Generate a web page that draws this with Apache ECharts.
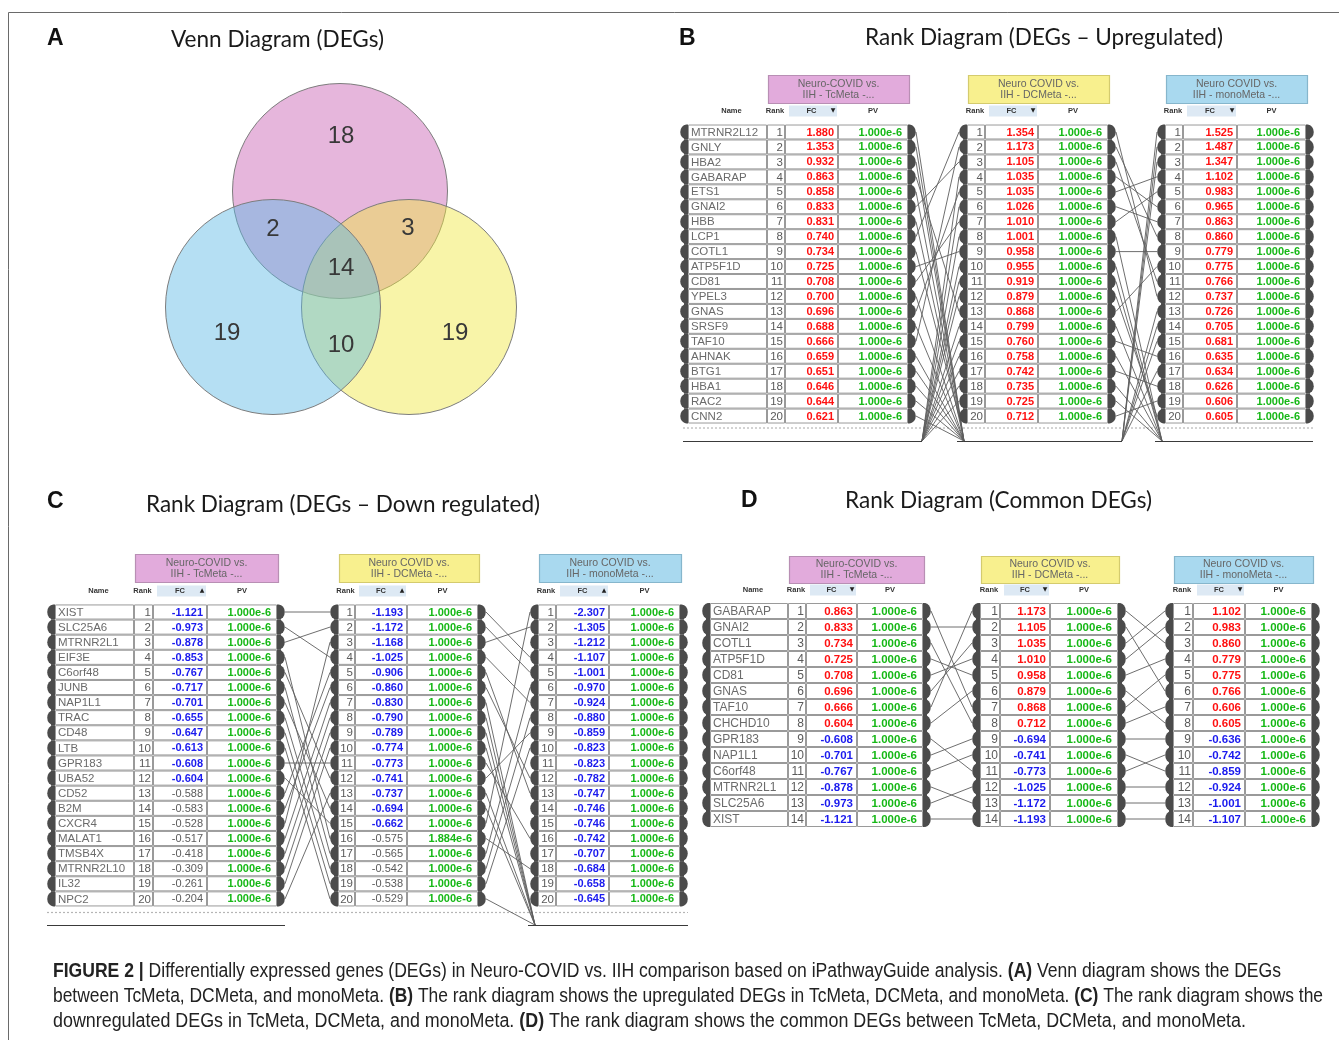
<!DOCTYPE html>
<html><head><meta charset="utf-8">
<script src="https://cdn.jsdelivr.net/npm/echarts@6/dist/echarts.min.js"></script>
<style>html,body{margin:0;padding:0;background:#fff}#c{width:1339px;height:1040px}</style>
</head><body><div id="c"></div>
<script>
// ================= DATA =================
// Venn region counts: TcMeta only, Tc∩mono, Tc∩DC, all three, monoMeta only, DC∩mono, DCMeta only
const vennCounts = [18, 2, 3, 14, 19, 10, 19];

const tableTitles = ['Neuro-COVID vs.\nIIH - TcMeta -...', 'Neuro COVID vs.\nIIH - DCMeta -...', 'Neuro COVID vs.\nIIH - monoMeta -...'];

// (B) upregulated
const upNames = ['MTRNR2L12','GNLY','HBA2','GABARAP','ETS1','GNAI2','HBB','LCP1','COTL1','ATP5F1D','CD81','YPEL3','GNAS','SRSF9','TAF10','AHNAK','BTG1','HBA1','RAC2','CNN2'];
const upTcFC = [1.880,1.353,0.932,0.863,0.858,0.833,0.831,0.740,0.734,0.725,0.708,0.700,0.696,0.688,0.666,0.659,0.651,0.646,0.644,0.621];
const upTcPV = [1e-6,1e-6,1e-6,1e-6,1e-6,1e-6,1e-6,1e-6,1e-6,1e-6,1e-6,1e-6,1e-6,1e-6,1e-6,1e-6,1e-6,1e-6,1e-6,1e-6];
const upDcFC = [1.354,1.173,1.105,1.035,1.035,1.026,1.010,1.001,0.958,0.955,0.919,0.879,0.868,0.799,0.760,0.758,0.742,0.735,0.725,0.712];
const upDcPV = [1e-6,1e-6,1e-6,1e-6,1e-6,1e-6,1e-6,1e-6,1e-6,1e-6,1e-6,1e-6,1e-6,1e-6,1e-6,1e-6,1e-6,1e-6,1e-6,1e-6];
const upMonoFC = [1.525,1.487,1.347,1.102,0.983,0.965,0.863,0.860,0.779,0.775,0.766,0.737,0.726,0.705,0.681,0.635,0.634,0.626,0.606,0.605];
const upMonoPV = [1e-6,1e-6,1e-6,1e-6,1e-6,1e-6,1e-6,1e-6,1e-6,1e-6,1e-6,1e-6,1e-6,1e-6,1e-6,1e-6,1e-6,1e-6,1e-6,1e-6];
// rank links [rank in left table, rank in right table]; null = not in the other top list
const upTcDc = [[1,null],[2,null],[3,null],[4,13],[5,null],[6,3],[7,null],[8,1],[9,20],[10,9],[11,7],[12,null],[13,5],[14,null],[15,2],[16,null],[17,null],[18,null],[19,null],[20,null],
  [null,4],[null,6],[null,8],[null,10],[null,11],[null,12],[null,14],[null,15],[null,16],[null,17],[null,18],[null,19]];
const upDcMono = [[1,12],[2,8],[3,11],[4,6],[5,4],[6,7],[7,5],[8,null],[9,9],[10,null],[11,null],[12,20],[13,10],[14,null],[15,16],[16,null],[17,18],[18,null],[19,null],[20,19],
  [null,1],[null,2],[null,3],[null,13],[null,14],[null,15],[null,17]];

// (C) downregulated
const downNames = ['XIST','SLC25A6','MTRNR2L1','EIF3E','C6orf48','JUNB','NAP1L1','TRAC','CD48','LTB','GPR183','UBA52','CD52','B2M','CXCR4','MALAT1','TMSB4X','MTRNR2L10','IL32','NPC2'];
const downTcFC = [-1.121,-0.973,-0.878,-0.853,-0.767,-0.717,-0.701,-0.655,-0.647,-0.613,-0.608,-0.604,-0.588,-0.583,-0.528,-0.517,-0.418,-0.309,-0.261,-0.204];
const downTcPV = [1e-6,1e-6,1e-6,1e-6,1e-6,1e-6,1e-6,1e-6,1e-6,1e-6,1e-6,1e-6,1e-6,1e-6,1e-6,1e-6,1e-6,1e-6,1e-6,1e-6];
const downDcFC = [-1.193,-1.172,-1.168,-1.025,-0.906,-0.860,-0.830,-0.790,-0.789,-0.774,-0.773,-0.741,-0.737,-0.694,-0.662,-0.575,-0.565,-0.542,-0.538,-0.529];
const downDcPV = [1e-6,1e-6,1e-6,1e-6,1e-6,1e-6,1e-6,1e-6,1e-6,1e-6,1e-6,1e-6,1e-6,1e-6,1e-6,1.884e-6,1e-6,1e-6,1e-6,1e-6];
const downMonoFC = [-2.307,-1.305,-1.212,-1.107,-1.001,-0.970,-0.924,-0.880,-0.859,-0.823,-0.823,-0.782,-0.747,-0.746,-0.746,-0.742,-0.707,-0.684,-0.658,-0.645];
const downMonoPV = [1e-6,1e-6,1e-6,1e-6,1e-6,1e-6,1e-6,1e-6,1e-6,1e-6,1e-6,1e-6,1e-6,1e-6,1e-6,1e-6,1e-6,1e-6,1e-6,1e-6];
const downTcDc = [[1,1],[2,4],[3,2],[4,16],[5,12],[6,17],[7,14],[8,18],[9,19],[10,20],[11,11],[12,15],[13,5],[14,6],[15,3],[16,7],[17,8],[18,9],[19,10],[20,13]];
const downDcMono = [[1,4],[2,5],[3,2],[4,7],[5,13],[6,12],[7,null],[8,null],[9,null],[10,null],[11,16],[12,9],[13,null],[14,null],[15,1],[16,18],[17,6],[18,8],[19,10],[20,null]];

// (D) common
const comNames = ['GABARAP','GNAI2','COTL1','ATP5F1D','CD81','GNAS','TAF10','CHCHD10','GPR183','NAP1L1','C6orf48','MTRNR2L1','SLC25A6','XIST'];
const comTcFC = [0.863,0.833,0.734,0.725,0.708,0.696,0.666,0.604,-0.608,-0.701,-0.767,-0.878,-0.973,-1.121];
const comTcPV = [1e-6,1e-6,1e-6,1e-6,1e-6,1e-6,1e-6,1e-6,1e-6,1e-6,1e-6,1e-6,1e-6,1e-6];
const comDcFC = [1.173,1.105,1.035,1.010,0.958,0.879,0.868,0.712,-0.694,-0.741,-0.773,-1.025,-1.172,-1.193];
const comDcPV = [1e-6,1e-6,1e-6,1e-6,1e-6,1e-6,1e-6,1e-6,1e-6,1e-6,1e-6,1e-6,1e-6,1e-6];
const comMonoFC = [1.102,0.983,0.860,0.779,0.775,0.766,0.606,0.605,-0.636,-0.742,-0.859,-0.924,-1.001,-1.107];
const comMonoPV = [1e-6,1e-6,1e-6,1e-6,1e-6,1e-6,1e-6,1e-6,1e-6,1e-6,1e-6,1e-6,1e-6,1e-6];
const comTcDc = [[1,7],[2,2],[3,8],[4,5],[5,4],[6,3],[7,1],[8,6],[9,11],[10,9],[11,10],[12,13],[13,12],[14,14]];
const comDcMono = [[1,3],[2,6],[3,1],[4,2],[5,4],[6,8],[7,5],[8,7],[9,9],[10,11],[11,10],[12,12],[13,13],[14,14]];

const panelLetters = ['A','B','C','D'];
const panelTitles = ['Venn Diagram (DEGs)','Rank Diagram (DEGs \u2013 Upregulated)','Rank Diagram (DEGs \u2013 Down regulated)','Rank Diagram (Common DEGs)'];
const captionLines = [
  [['FIGURE 2 |',1],[' Differentially expressed genes (DEGs) in Neuro-COVID vs. IIH comparison based on iPathwayGuide analysis. ',0],['(A)',1],[' Venn diagram shows the DEGs',0]],
  [['between TcMeta, DCMeta, and monoMeta. ',0],['(B)',1],[' The rank diagram shows the upregulated DEGs in TcMeta, DCMeta, and monoMeta. ',0],['(C)',1],[' The rank diagram shows the',0]],
  [['downregulated DEGs in TcMeta, DCMeta, and monoMeta. ',0],['(D)',1],[' The rank diagram shows the common DEGs between TcMeta, DCMeta, and monoMeta.',0]]
];

// ================= LAYOUT / STYLE =================
const W = 1339;
const FONT = '"Liberation Sans", Arial, sans-serif';
const DARK = '#4b4b4b';
const HEAD_FILL = ['#e2abdc','#f8f08e','#a9d9ef'];
const HEAD_STROKE = ['#b88fb4','#d4cb6e','#86b6cc'];
const PL = {
  B: {row1:132, rowH:14.95, n:20, headTop:-57, headH:28, colHead:-21, sinkRank:21.67, dotRank:20.8, arrow:'\u25BC',
      dot:[683,1313], solid:[[683,922],[957,1122],[1155,1313]],
      tables:[{x0:688, cols:[['name',79],['rank',18],['fc',53],['pv',70]]},
              {x0:967, cols:[['rank',18],['fc',53],['pv',70]]},
              {x0:1165, cols:[['rank',18],['fc',54],['pv',69]]}]},
  C: {row1:612, rowH:15.1, n:20, headTop:-58, headH:28, colHead:-21, sinkRank:21.73, dotRank:20.9, arrow:'\u25B2',
      dot:[47,688], solid:[[47,285],[528,688]],
      tables:[{x0:55, cols:[['name',79],['rank',19],['fc',54],['pv',70]]},
              {x0:338, cols:[['rank',17],['fc',52],['pv',71]]},
              {x0:538, cols:[['rank',18],['fc',53],['pv',71]]}]},
  D: {row1:611, rowH:16, n:14, headTop:-55, headH:27, colHead:-21, sinkRank:null, dotRank:null, arrow:'\u25BC',
      dot:null, solid:[],
      tables:[{x0:710, cols:[['name',78],['rank',18],['fc',51],['pv',66]]},
              {x0:980, cols:[['rank',20],['fc',50],['pv',68]]},
              {x0:1173, cols:[['rank',20],['fc',52],['pv',67]]}]}
};
const VENN = {left:150, top:80, width:380, height:340,
  circles:[{cx:190, cy:111, r:107.5, fill:'rgb(230,182,220)'},
           {cx:259, cy:227, r:107.5, fill:'rgba(239,231,62,0.45)'},
           {cx:123, cy:227, r:107.5, fill:'rgba(91,184,228,0.45)'}],
  labels:[[191,56],[123,149],[258,148],[191,188],[77,253],[191,265],[305,253]]};

// ================= HELPERS =================
const mctx = document.createElement('canvas').getContext('2d');
function measure(t, font){ mctx.font = font; return mctx.measureText(t).width; }
function tableRight(t){ return t.x0 + t.cols.reduce((s,c)=>s+c[1],0); }

function tableSeries(gi, P, ti, names, fcs, pvs){
  const t = P.tables[ti];
  return {
    type:'custom', xAxisIndex:gi, yAxisIndex:gi, silent:true, z:5,
    data: fcs.map((v,i)=>[t.x0, i+1]),
    renderItem(params, api){
      const i = params.dataIndex;
      const rank = api.value(1);
      const c = api.coord([t.x0, rank]);
      const h = api.size([0,1])[1];
      const y = c[1], top = y - h/2;
      const X = v => api.coord([v, rank])[0];
      const L = X(t.x0), R = X(tableRight(t));
      const kids = [];
      kids.push({type:'rect', shape:{x:L-4, y:top, width:4, height:h, r: i===0?[3,0,0,0]:(i===fcs.length-1?[0,0,0,3]:0)}, style:{fill:DARK}});
      kids.push({type:'circle', x:L-2, y:y, scaleX:6/(h/2), shape:{cx:0,cy:0,r:h/2-0.3}, style:{fill:DARK}});
      kids.push({type:'rect', shape:{x:R, y:top, width:4, height:h, r: i===0?[0,3,0,0]:(i===fcs.length-1?[0,0,3,0]:0)}, style:{fill:DARK}});
      kids.push({type:'circle', x:R+2, y:y, scaleX:6/(h/2), shape:{cx:0,cy:0,r:h/2-0.3}, style:{fill:DARK}});
      let xv = t.x0;
      const fs = P.rowH >= 15.5 ? 12 : 11.5;
      for (const [key, w] of t.cols){
        const x0 = X(xv), x1 = X(xv + w);
        kids.push({type:'rect', shape:{x:x0+0.5, y:top+0.5, width:x1-x0-1, height:h-1}, style:{fill:'#fff', stroke:'#9a9a9a', lineWidth:1}});
        let st;
        if (key === 'name') st = {text:names[i], x:x0+3, align:'left', fill:'#6b6b6b', fontSize:fs, fontWeight:'normal'};
        else if (key === 'rank') st = {text:String(rank), x:x1-2, align:'right', fill:'#5a5a5a', fontSize:fs, fontWeight:'normal'};
        else if (key === 'fc') {
          const v = fcs[i]; const sig = Math.abs(v) >= 0.6;
          st = {text:v.toFixed(3), x:x1-4, align:'right', fill: sig ? (v > 0 ? '#ff1010' : '#1a1aee') : '#5a5a5a', fontSize:fs-0.5, fontWeight: sig ? 'bold' : 'normal'};
        } else st = {text:pvs[i].toExponential(3), x:x1-6, align:'right', fill:'#16b816', fontSize:fs-0.5, fontWeight:'bold'};
        st.y = y + 0.5; st.verticalAlign = 'middle'; st.fontFamily = FONT;
        kids.push({type:'text', style:st});
        xv += w;
      }
      if (i === 0) {
        let xr = t.x0;
        const colX = {};
        for (const [key, w] of t.cols){ colX[key] = [X(xr), X(xr + w)]; xr += w; }
        const bx0 = colX.rank[0] + 1, bx1 = colX.pv[1] + 1;
        kids.push({type:'rect', shape:{x:bx0+0.5, y:y+P.headTop+0.5, width:bx1-bx0, height:P.headH}, style:{fill:HEAD_FILL[ti], stroke:HEAD_STROKE[ti], lineWidth:1.2}});
        kids.push({type:'text', style:{text:tableTitles[ti], x:(bx0+bx1)/2, y:y+P.headTop+P.headH/2+0.5, align:'center', verticalAlign:'middle', fontSize:10.5, lineHeight:11, fill:'#666', fontFamily:FONT}});
        const hy = y + P.colHead;
        const hs = (text, x) => ({type:'text', style:{text, x, y:hy, align:'center', verticalAlign:'middle', fontSize:7.5, fontWeight:'bold', fill:'#333', fontFamily:FONT}});
        if (colX.name) kids.push(hs('Name', (colX.name[0]+colX.name[1])/2 + 4));
        kids.push(hs('Rank', (colX.rank[0]+colX.rank[1])/2 - 1));
        kids.push(hs('PV', (colX.pv[0]+colX.pv[1])/2));
        kids.push({type:'rect', shape:{x:colX.fc[0]+4, y:hy-5.5, width:colX.fc[1]-colX.fc[0]-5, height:11}, style:{fill:'#dde9f4'}});
        kids.push(hs('FC', (colX.fc[0]+colX.fc[1])/2));
        kids.push({type:'text', style:{text:P.arrow, x:colX.fc[1]-5, y:hy-1, align:'center', verticalAlign:'middle', fontSize:6, fill:'#222', fontFamily:'DejaVu Sans'}});
      }
      return {type:'group', children:kids};
    }
  };
}

function linkSeries(gi, P, ta, tb, pairs){
  const A = P.tables[ta], B = P.tables[tb];
  const ax = tableRight(A) + 8, bx = B.x0 - 8;
  return {
    type:'custom', xAxisIndex:gi, yAxisIndex:gi, silent:true, z:2,
    data: pairs.map((p, i) => [i]),
    renderItem(params, api){
      const [a, b] = pairs[params.dataIndex];
      const p1 = a != null ? api.coord([ax, a]) : api.coord([ax + 6, P.sinkRank]);
      const p2 = b != null ? api.coord([bx, b]) : api.coord([bx + 5, P.sinkRank]);
      return {type:'line', shape:{x1:p1[0], y1:p1[1], x2:p2[0], y2:p2[1]}, style:{stroke:'#5e5e5e', lineWidth:0.9}};
    }
  };
}

function decorSeries(gi, P){
  return {
    type:'custom', xAxisIndex:gi, yAxisIndex:gi, silent:true, z:1,
    data: [[0]],
    renderItem(params, api){
      const kids = [];
      if (P.dot) {
        const a = api.coord([P.dot[0], P.dotRank]), b = api.coord([P.dot[1], P.dotRank]);
        kids.push({type:'line', shape:{x1:a[0], y1:a[1], x2:b[0], y2:b[1]}, style:{stroke:'#b5b5b5', lineWidth:1.2, lineDash:[2,2]}});
      }
      for (const s of P.solid){
        const a = api.coord([s[0], P.sinkRank]), b = api.coord([s[1], P.sinkRank]);
        kids.push({type:'line', shape:{x1:a[0], y1:a[1]+0.5, x2:b[0], y2:b[1]+0.5}, style:{stroke:'#3a3a3a', lineWidth:1.2}});
      }
      return {type:'group', children:kids};
    }
  };
}

// ================= BUILD =================
const panelKeys = ['B','C','D'];
const grids = [], xAxes = [], yAxes = [];
panelKeys.forEach((k, gi) => {
  const P = PL[k];
  grids.push({left:0, top:P.row1 - P.rowH/2, width:W, height:P.n * P.rowH, containLabel:false});
  xAxes.push({type:'value', gridIndex:gi, min:0, max:W, show:false});
  yAxes.push({type:'value', gridIndex:gi, min:0.5, max:P.n + 0.5, inverse:true, show:false});
});
grids.push({left:VENN.left, top:VENN.top, width:VENN.width, height:VENN.height});
xAxes.push({type:'value', gridIndex:3, min:0, max:VENN.width, show:false});
yAxes.push({type:'value', gridIndex:3, min:0, max:VENN.height, inverse:true, show:false});

const series = [];
const sets = {
  B: [[upNames, upTcFC, upTcPV],[null, upDcFC, upDcPV],[null, upMonoFC, upMonoPV], upTcDc, upDcMono],
  C: [[downNames, downTcFC, downTcPV],[null, downDcFC, downDcPV],[null, downMonoFC, downMonoPV], downTcDc, downDcMono],
  D: [[comNames, comTcFC, comTcPV],[null, comDcFC, comDcPV],[null, comMonoFC, comMonoPV], comTcDc, comDcMono]
};
panelKeys.forEach((k, gi) => {
  const P = PL[k], S = sets[k];
  series.push(decorSeries(gi, P));
  series.push(linkSeries(gi, P, 0, 1, S[3]));
  series.push(linkSeries(gi, P, 1, 2, S[4]));
  for (let ti = 0; ti < 3; ti++) series.push(tableSeries(gi, P, ti, S[ti][0], S[ti][1], S[ti][2]));
});
series.push({type:'custom', xAxisIndex:3, yAxisIndex:3, silent:true, z:3,
  data: VENN.circles.map(c => [c.cx, c.cy]),
  renderItem(params, api){
    const c = VENN.circles[params.dataIndex];
    const p = api.coord([api.value(0), api.value(1)]);
    const r = api.size([c.r, 0])[0];
    return {type:'circle', shape:{cx:p[0], cy:p[1], r}, style:{fill:c.fill, stroke:'#7d7d7d', lineWidth:1}};
  }});
series.push({type:'custom', xAxisIndex:3, yAxisIndex:3, silent:true, z:4,
  data: vennCounts.map((v, i) => [VENN.labels[i][0], VENN.labels[i][1], v]),
  renderItem(params, api){
    const p = api.coord([api.value(0), api.value(1)]);
    return {type:'text', style:{text:String(api.value(2)), x:p[0], y:p[1], align:'center', verticalAlign:'middle', fontSize:24, fill:'#383838', fontFamily:FONT}};
  }});

// ---- graphic texts ----
const graphics = [];
graphics.push({type:'rect', shape:{x:8.5, y:12.5, width:1345, height:1045}, style:{fill:'none', stroke:'#6a6a6a', lineWidth:1}, silent:true});
const letterPos = [[47,39],[679,39],[47,502],[741,501]];
panelLetters.forEach((l, i) => graphics.push({type:'text', x:letterPos[i][0], y:letterPos[i][1], style:{text:l, fontSize:23, fontWeight:'bold', fontFamily:FONT, fill:'#111', verticalAlign:'middle'}}));
const titlePos = [[171,40,213],[865,38,358],[146,505,394],[845,501,307]];
const titleFont = '23px Lato';
panelTitles.forEach((t, i) => {
  const [x, y, w] = titlePos[i];
  const s = w / measure(t, titleFont);
  graphics.push({type:'text', x, y, scaleX:s, style:{text:t, font:titleFont, fill:'#1a1a1a', verticalAlign:'middle'}});
});
const capY = [972, 997, 1022], capW = [1228, 1270, 1193], capX = 53;
captionLines.forEach((segs, li) => {
  const fn = b => (b ? 'bold ' : '') + '19.5px "Liberation Sans"';
  const total = segs.reduce((s, g) => s + measure(g[0], fn(g[1])), 0);
  const sc = capW[li] / total;
  let cx = capX;
  segs.forEach(g => {
    graphics.push({type:'text', x:cx, y:capY[li], scaleX:sc, style:{text:g[0], font:fn(g[1]), fill:'#222', verticalAlign:'middle'}});
    cx += measure(g[0], fn(g[1])) * sc;
  });
});

const chart = echarts.init(document.getElementById('c'), null, {renderer:'canvas'});
chart.setOption({
  animation:false,
  backgroundColor:'#ffffff',
  grid:grids, xAxis:xAxes, yAxis:yAxes, series, graphic:graphics
});
</script></body></html>
